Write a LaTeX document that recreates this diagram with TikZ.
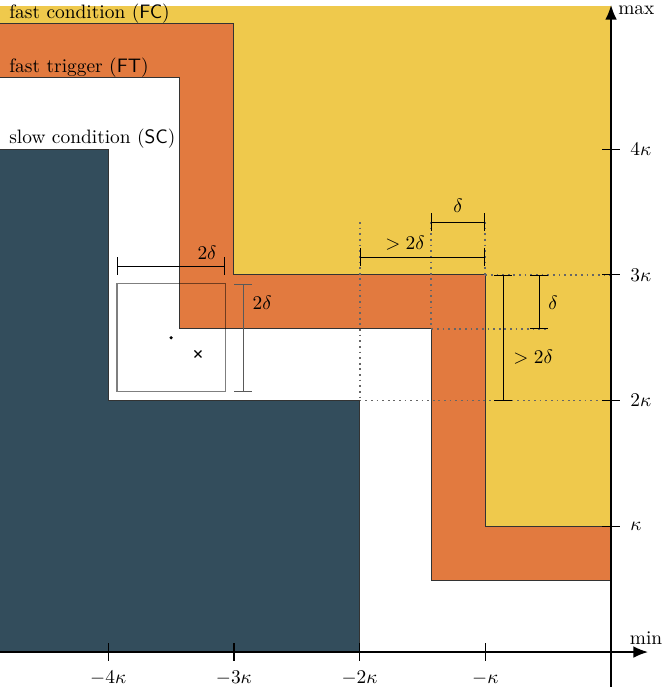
\documentclass[tikz,border=0pt]{standalone}
\usetikzlibrary{arrows.meta}
\definecolor{fcyellow}{HTML}{EFC94C}
\definecolor{ftorange}{HTML}{E27A3F}
\definecolor{scdark}{HTML}{334D5C}
\tikzset{
  border/.style={draw=black!80, line width=0.5pt},
  guide/.style={draw=black!60, dotted, line width=0.9pt},
  dimline/.style={line width=0.5pt, {Bar[width=9pt]}-{Bar[width=9pt]}},
  axisline/.style={line width=0.8pt, -{Latex[length=7.5pt,width=6pt]}},
  tickmark/.style={line width=0.6pt},
  regionlabel/.style={anchor=south west, inner sep=0pt},
  dimlabel/.style={inner sep=0pt}
}
\begin{document}
\begin{tikzpicture}[x=2.277cm,y=2.277cm]
\useasboundingbox (-4.861,-0.294) rectangle (0.4216,5.187);
% regions
\fill[fcyellow] (-4.861,5.139) -- (0,5.139) -- (0,1) -- (-1,1) -- (-1,3) -- (-3,3) -- (-3,5) -- (-4.861,5) -- cycle;
\fill[ftorange] (-4.861,5) -- (-3,5) -- (-3,3) -- (-1,3) -- (-1,1) -- (0,1) -- (0,0.57) -- (-1.43,0.57) -- (-1.43,2.57) -- (-3.43,2.57) -- (-3.43,4.57) -- (-4.861,4.57) -- cycle;
\fill[scdark] (-4.861,4) -- (-4,4) -- (-4,2) -- (-2,2) -- (-2,0) -- (-4.861,0) -- cycle;
\draw[border] (-4.861,5) -- (-3,5) -- (-3,3) -- (-1,3) -- (-1,1) -- (0,1);
\draw[border] (-4.861,4.57) -- (-3.43,4.57) -- (-3.43,2.57) -- (-1.43,2.57) -- (-1.43,0.57) -- (0,0.57);
\draw[border] (-4.861,4) -- (-4,4) -- (-4,2) -- (-2,2) -- (-2,0);
% region labels
\node[regionlabel] (lfc) at (-4.79,5) {fast condition (\textsf{FC})};
\node[regionlabel] (lft) at (-4.79,4.57) {fast trigger (\textsf{FT})};
\node[regionlabel] (lsc) at (-4.79,4) {slow condition (\textsf{SC})};
% guide lines
\draw[guide] (-2,3.42) -- (-2,2);
\draw[guide] (-1.43,3.42) -- (-1.43,2.57);
\draw[guide] (-1,3.42) -- (-1,3);
\draw[guide] (-1,3) -- (0,3);
\draw[guide] (-1.43,2.57) -- (-0.50,2.57);
\draw[guide] (-2,2) -- (0,2);
% small box
\draw[black, opacity=0.5, line width=0.6pt] (-3.93,2.07) rectangle (-3.07,2.93);
\fill (-3.5,2.5) circle (0.9pt);
\draw[line width=0.6pt] (-3.286,2.371) ++(-1.8pt,-1.8pt) -- ++(3.6pt,3.6pt) ++(0,-3.6pt) -- ++(-3.6pt,3.6pt);
% dimensions
\draw[dimline] (-3.93,3.07) -- (-3.07,3.07);
\node[dimlabel] (d1) at (-3.214,3.18) {$2\delta$};
\draw[dimline, black!65] (-2.928,2.928) -- (-2.928,2.068);
\node[dimlabel] (d2) at (-2.776,2.776) {$2\delta$};
\draw[dimline] (-2,3.142) -- (-1,3.142);
\node[dimlabel] (d3) at (-1.639,3.254) {$>2\delta$};
\draw[dimline] (-1.43,3.421) -- (-1,3.421);
\node[dimlabel] (d4) at (-1.217,3.548) {$\delta$};
\draw[dimline] (-0.859,3) -- (-0.859,2);
\node[dimlabel] (d5) at (-0.62,2.347) {$>2\delta$};
\draw[dimline] (-0.573,3) -- (-0.573,2.57);
\node[dimlabel] (d6) at (-0.461,2.776) {$\delta$};
% axes
\draw[axisline] (-4.861,0) -- (0.294,0) node[above, xshift=-1pt] (min) {min};
\draw[axisline] (0,-0.278) -- (0,5.147) node[right, yshift=-2.5pt] (max) {max};
\foreach \i/\t in {1/-\kappa,2/-2\kappa,3/-3\kappa,4/-4\kappa}{
  \draw[tickmark] (-\i,0.07) -- (-\i,-0.07);
  \node (xl\i) at (-\i,-0.209) {$\t$};
}
\foreach \j/\t in {1/\kappa,2/2\kappa,3/3\kappa,4/4\kappa}{
  \draw[tickmark] (-0.07,\j) -- (0.07,\j);
  \node[anchor=west] (yl\j) at (0.1,\j) {$\t$};
}
\end{tikzpicture}
\end{document}
